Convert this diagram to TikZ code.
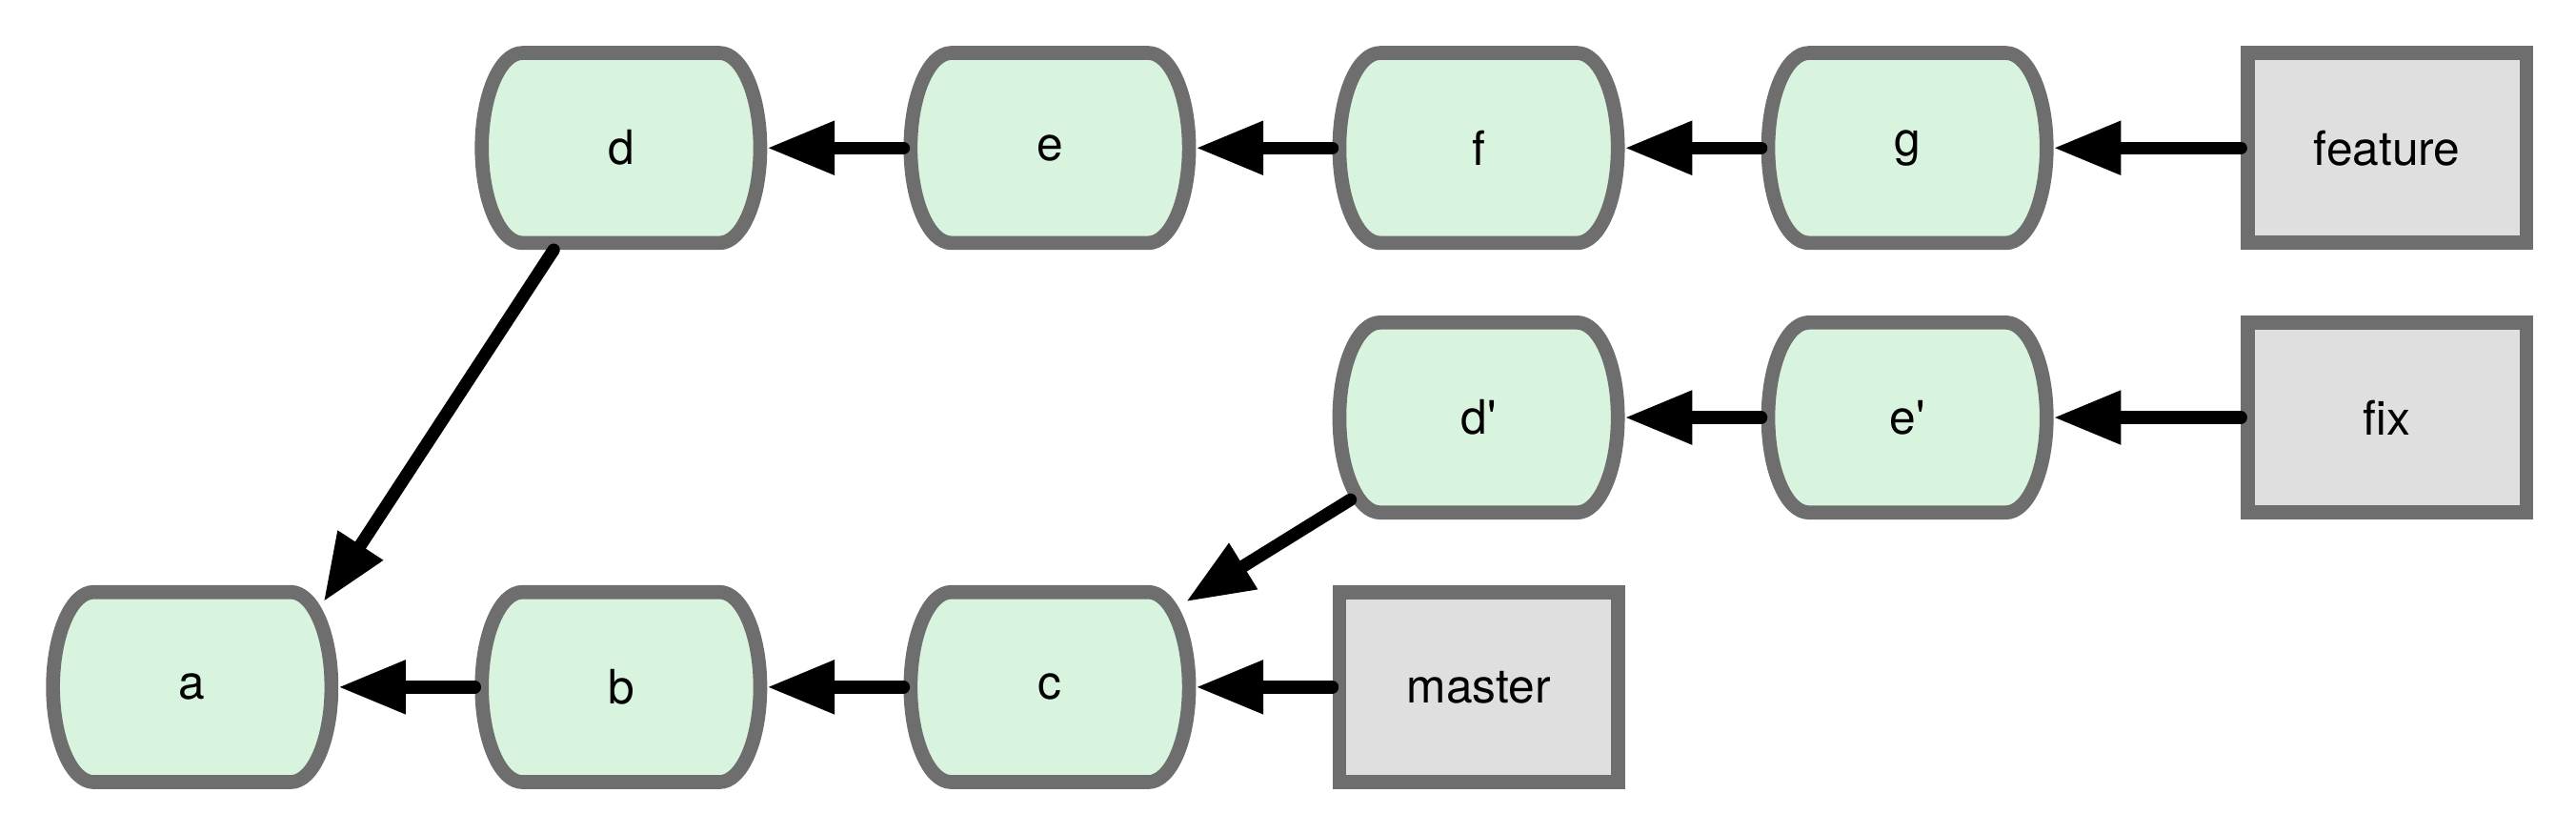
\documentclass[tikz,border=0pt]{standalone}
\usepackage{fontspec}
\setmainfont{TeX Gyre Heros}
\usetikzlibrary{arrows.meta,backgrounds}
\definecolor{commitfill}{HTML}{D9F4DE}
\definecolor{borde}{HTML}{6E6E6E}
\definecolor{ramafill}{HTML}{DFDFDF}
\begin{document}
\begin{tikzpicture}[node distance=2.61cm, font=\fontsize{8.2}{10}\selectfont,
    commit/.style={rectangle, minimum width=1.695cm, minimum height=1.155cm, outer sep=0.0425cm},
    barril/.style={draw=borde, fill=commitfill, line width=0.085cm, line join=round},
    rama/.style={rectangle, draw=borde, fill=ramafill, line width=0.085cm, minimum width=1.695cm, minimum height=1.155cm},
    link/.style={-{Triangle[length=0.41cm,width=0.31cm]}, line width=0.077cm, line cap=round}]
        \useasboundingbox (0,0) rectangle (15.68,-5.07);

        % Fila de abajo: a, b, c y master
        \node[commit] (a) at (1.17,-4.18) {a};
        \node[commit, right of=a] (b) {b};
        \node[commit, right of=b] (c) {c};
        \node[rama, right of=c] (master) {master};

        % Fila del medio: d', e' y fix
        \node[commit, above of=master, node distance=1.64cm] (d2) {d\textquotesingle};
        \node[commit, right of=d2] (e2) {e\textquotesingle};
        \node[rama, right of=e2, node distance=2.92cm] (fix) {fix};

        % Fila de arriba: d, e, f, g y feature
        \node[commit, above of=d2, node distance=1.64cm] (f) {f};
        \node[commit, left of=f] (e) {e};
        \node[commit, left of=e] (d) {d};
        \node[commit, right of=f] (g) {g};
        \node[rama, right of=g, node distance=2.92cm] (feature) {feature};

        % Contorno de los commits, detras del texto
        \begin{scope}[on background layer]
            \foreach \n in {a,b,c,d,e,f,g,d2,e2}
                \draw[barril] (\n.center) ++(-0.6,0.578) -- ++(1.2,0)
                    arc[start angle=90, end angle=-90, x radius=0.2475, y radius=0.578]
                    -- ++(-1.2,0)
                    arc[start angle=270, end angle=90, x radius=0.2475, y radius=0.578] -- cycle;
        \end{scope}

        % Flechas de la fila de abajo
        \draw [link] (b) -- (a);
        \draw [link] (c) -- (b);
        \draw [link] (master) -- (c);

        % Flechas de la fila del medio
        \draw [link] (e2) -- (d2);
        \draw [link] (fix) -- (e2);
        \draw [link] ([xshift=0.11cm,yshift=0.12cm]d2.south west) -- ([xshift=-0.06cm,yshift=-0.1cm]c.north east);

        % Flechas de la fila de arriba
        \draw [link] (e) -- (d);
        \draw [link] (f) -- (e);
        \draw [link] (g) -- (f);
        \draw [link] (feature) -- (g);
        \draw [link] ([xshift=-0.41cm]d.south) -- ([xshift=-0.09cm,yshift=-0.1cm]a.north east);

    \end{tikzpicture}
\end{document}
